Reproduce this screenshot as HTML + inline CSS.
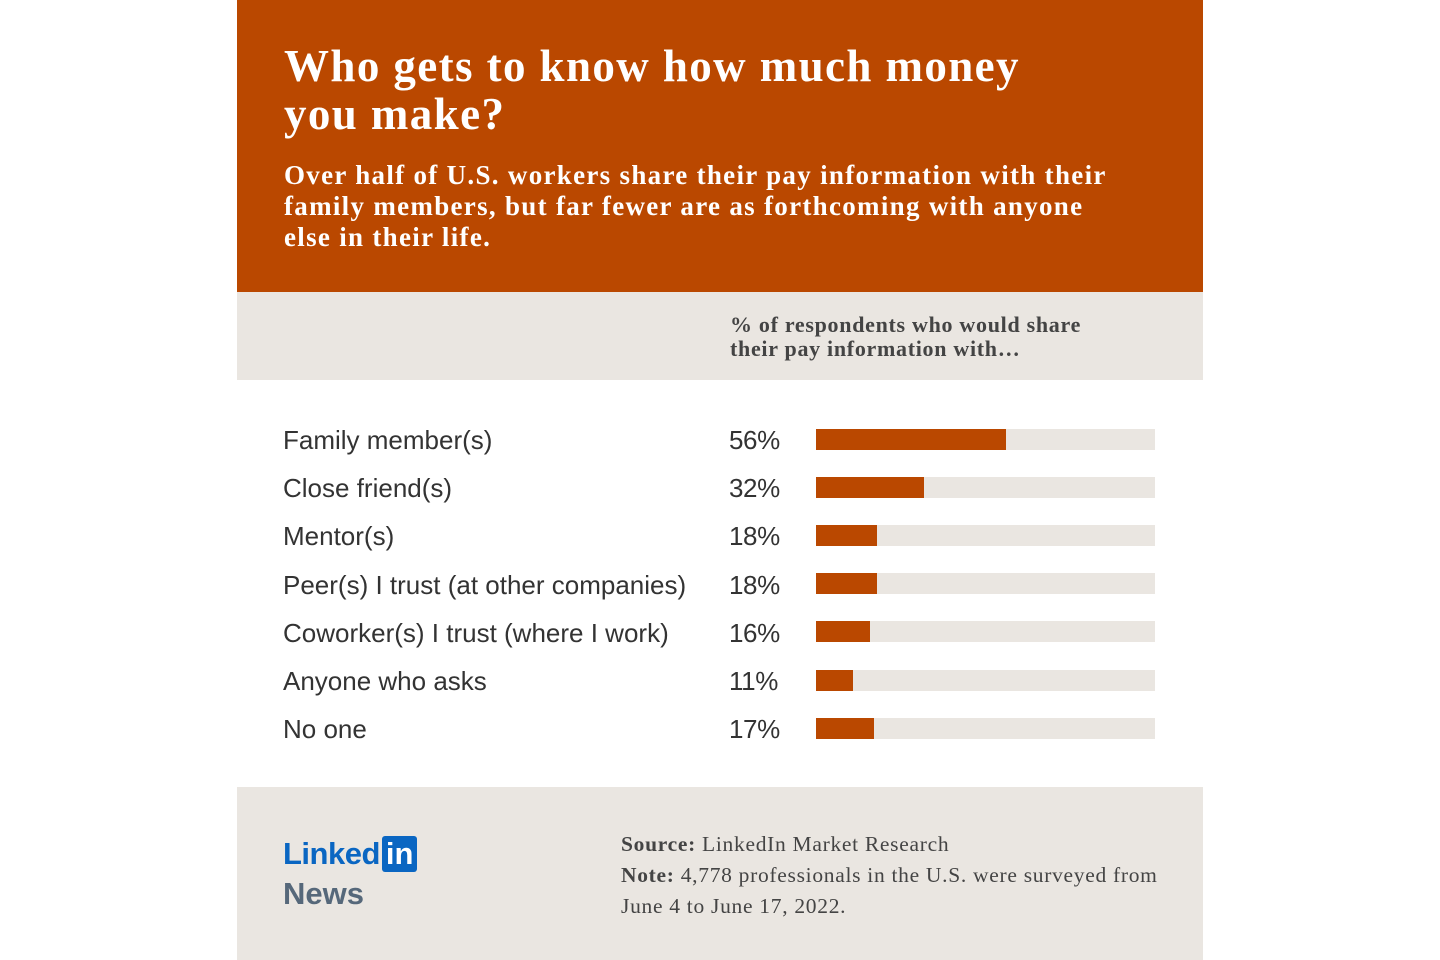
<!DOCTYPE html>
<html><head><meta charset="utf-8"><style>
body{margin:0;width:1440px;height:960px;background:#fff;position:relative;overflow:hidden;font-family:"Liberation Sans",sans-serif}
.abs{position:absolute}
#hdr{left:237px;top:0;width:966px;height:292px;background:#BA4800}
#band{left:237px;top:292px;width:966px;height:88px;background:#EAE6E1}
#foot{left:237px;top:787px;width:966px;height:173px;background:#EAE6E1}
h1{position:absolute;left:284px;top:42px;margin:0;font:bold 45px/48px "Liberation Serif",serif;color:#fff;letter-spacing:1.4px;white-space:nowrap}
#sub{left:284px;top:160px;font:bold 27px/31px "Liberation Serif",serif;color:#fff;white-space:nowrap;letter-spacing:1.3px}
#axt{left:730px;top:313px;font:bold 22px/24px "Liberation Serif",serif;color:#444;white-space:nowrap;letter-spacing:0.7px}
.lab{position:absolute;left:283px;font-size:26px;color:#333;line-height:30px;letter-spacing:0px;white-space:nowrap}
.val{position:absolute;left:729px;font-size:26px;color:#333;line-height:30px;letter-spacing:-0.4px}
#src{left:621px;top:829px;font:21.5px/31px "Liberation Serif",serif;color:#444;white-space:nowrap;letter-spacing:0.7px}
</style></head><body>
<div id="hdr" class="abs"></div>
<h1>Who gets to know how much money<br>you make?</h1>
<div id="sub" class="abs">Over half of U.S. workers share their pay information with their<br>family members, but far fewer are as forthcoming with anyone<br>else in their life.</div>
<div id="band" class="abs"></div>
<div id="axt" class="abs">% of respondents who would share<br>their pay information with…</div>
<div id="chart"></div>
<div id="foot" class="abs"></div>
<div class="abs" style="left:283px;top:836px">
<span style="font:bold 31px 'Liberation Sans',sans-serif;color:#0A66C2;letter-spacing:-0.5px">Linked</span><span style="display:inline-block;background:#0A66C2;color:#fff;font:bold 31px/36px 'Liberation Sans',sans-serif;padding:0 4px;border-radius:3px;margin-left:2px">in</span>
</div>
<div class="abs" style="left:283px;top:876px;font:bold 31px 'Liberation Sans',sans-serif;color:#56687A">News</div>
<div id="src" class="abs"><b>Source:</b> LinkedIn Market Research<br><b>Note:</b> 4,778 professionals in the U.S. were surveyed from<br>June 4 to June 17, 2022.</div>
<script>
const categories=["Family member(s)","Close friend(s)","Mentor(s)","Peer(s) I trust (at other companies)","Coworker(s) I trust (where I work)","Anyone who asks","No one"];
const values=[56,32,18,18,16,11,17];
const valueLabels=["56%","32%","18%","18%","16%","11%","17%"];
const x0=816,trackW=339,y0=439,step=48.2,bh=21;
const xs=v=>v/100*trackW;
const ys=i=>y0+i*step;
const c=document.getElementById('chart');
categories.forEach((cat,i)=>{
  const cy=ys(i);
  const l=document.createElement('div');l.className='lab';l.style.top=(cy-14)+'px';l.textContent=cat;
  
  
  c.appendChild(l);
  const v=document.createElement('div');v.className='val';v.style.top=(cy-14)+'px';v.textContent=valueLabels[i];
  
  
  c.appendChild(v);
  const t=document.createElement('div');t.className='abs';
  t.style.cssText=`left:${x0}px;top:${cy-bh/2}px;width:${trackW}px;height:${bh}px;background:#EAE6E1`;
  
  
  c.appendChild(t);
  const b=document.createElement('div');b.className='abs';
  b.style.cssText=`left:${x0}px;top:${cy-bh/2}px;width:${xs(values[i])}px;height:${bh}px;background:#BA4800`;
  
  
  c.appendChild(b);
});
</script>
</body></html>
